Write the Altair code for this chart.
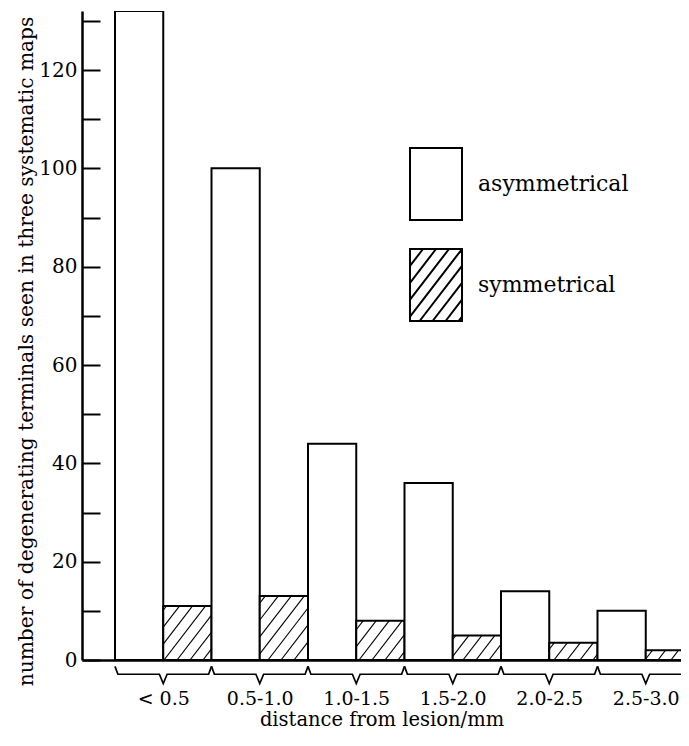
import json
import altair as alt
import numpy as np
import pandas as pd

# ---------------- data ----------------
categories = ["< 0.5", "0.5-1.0", "1.0-1.5", "1.5-2.0", "2.0-2.5", "2.5-3.0"]
asymmetrical = [132, 100, 44, 36, 14, 10]
symmetrical = [11, 13, 8, 5, 3.5, 2]
series_names = ["asymmetrical", "symmetrical"]
y_tick_values = [0, 10, 20, 30, 40, 50, 60, 70, 80, 90, 100, 110, 120, 130]
x_label_values = [1, 3, 5, 7, 9, 11]
x_title = "distance from lesion/mm"
y_title = "number of degenerating terminals seen in three systematic maps"

# ---------------- layout constants ----------------
PLOT_W = 599
PLOT_H = 649
BAR_PX = 48.25
X_MIN = -0.684
X_MAX = X_MIN + PLOT_W / BAR_PX
Y_MAX = 132
PX_PER_X = PLOT_W / (X_MAX - X_MIN)
PX_PER_Y = PLOT_H / Y_MAX
FONT = "DejaVu Serif"
SLOPE = 1.3      # hatch slope (pixel dy/dx)
SPACING = 13.0   # hatch horizontal spacing in px

# ---------------- derived tables ----------------
rows = []
for g, cat in enumerate(categories):
    for s, (name, vals) in enumerate(zip(series_names, [asymmetrical, symmetrical])):
        rows.append({"category": cat, "series": name, "x0": 2 * g + s,
                     "x1": 2 * g + s + 1, "xc": 2 * g + s + 0.5, "value": vals[g]})
bars = pd.DataFrame(rows)

# hatch segments inside symmetrical bars (derived from bar values)
hatch = []
for g, v in enumerate(symmetrical):
    xa = (2 * g + 1 - X_MIN) * PX_PER_X
    xb = xa + PX_PER_X
    h = v * PX_PER_Y
    k0 = int(np.floor((xa - h / SLOPE) / SPACING)) - 1
    k1 = int(np.ceil(xb / SPACING)) + 1
    for k in range(k0, k1 + 1):
        c = k * SPACING + 4
        ylo = max(0.0, SLOPE * (xa - c))
        yhi = min(h, SLOPE * (xb - c))
        if yhi - ylo > 0.5:
            hatch.append({"x": X_MIN + (c + ylo / SLOPE) / PX_PER_X, "y": ylo / PX_PER_Y,
                          "x2": X_MIN + (c + yhi / SLOPE) / PX_PER_X, "y2": yhi / PX_PER_Y})
hatch_df = pd.DataFrame(hatch)

# braces under each group
BR_END, BR_MID, BR_TIP = -1.3, -2.9, -4.8
brace = []
for g in range(len(categories)):
    x0, x1 = 2 * g, 2 * g + 2
    xc = (x0 + x1) / 2
    pts = [(x0, BR_END), (x0 + 0.06, BR_MID), (xc - 0.08, BR_MID), (xc, BR_TIP),
           (xc + 0.08, BR_MID), (x1 - 0.06, BR_MID), (x1, BR_END)]
    for i, (bx, by) in enumerate(pts):
        brace.append({"g": g, "i": i, "x": bx, "y": by})
brace_df = pd.DataFrame(brace)

# legend symbol paths (unit square -1..1 scaled by sqrt(size)/2)
W = 0.722
rect_path = f"M{-W},-1L{W},-1L{W},1L{-W},1Z"
step = SPACING / 36.0
segs = []
c = -W - 2 / SLOPE - step
while c < W + step:
    tlo = max(0.0, SLOPE * (-W - c))
    thi = min(2.0, SLOPE * (W - c))
    if thi - tlo > 0.02:
        xa_, ya_ = c + tlo / SLOPE, 1 - tlo
        xb_, yb_ = c + thi / SLOPE, 1 - thi
        segs.append(f"M{xa_:.3f},{ya_:.3f}L{xb_:.3f},{yb_:.3f}")
    c += step
hatch_path = rect_path + "".join(segs)

# ---------------- chart ----------------
x_scale = alt.Scale(domain=[X_MIN, X_MAX], nice=False, zero=False)
y_scale = alt.Scale(domain=[0, Y_MAX], nice=False)

label_expr = json.dumps(categories) + "[round((datum.value - 1) / 2)]"

x_axis = alt.Axis(values=x_label_values, labelExpr=label_expr, ticks=False, grid=False,
                  domain=True, domainColor="black", domainWidth=2.5,
                  labelPadding=29, labelFont=FONT, labelFontSize=19, labelColor="black",
                  labelOverlap=False,
                  title=x_title, titleFont=FONT, titleFontSize=19.5, titleFontWeight="normal",
                  titleColor="black", titlePadding=2)
y_axis = alt.Axis(values=y_tick_values,
                  labelExpr="datum.value % 20 == 0 ? datum.label : ''",
                  ticks=False, grid=True, gridDash=[18, 2000], gridColor="black",
                  gridWidth=2, gridOpacity=1, domain=True, domainColor="black",
                  domainWidth=2.5, labelPadding=5, labelFont=FONT, labelFontSize=20,
                  labelColor="black", labelOverlap=False,
                  title=y_title, titleFont=FONT, titleFontSize=20.2, titleFontWeight="normal",
                  titleColor="black", titleX=-56, titleY=340, titleBaseline="middle")

bar_layer = alt.Chart(bars).mark_rect(fill="white", stroke="black", strokeWidth=2,
                                      clip=True).encode(
    x=alt.X("x0:Q", scale=x_scale, axis=x_axis),
    x2="x1:Q",
    y=alt.Y("value:Q", scale=y_scale, axis=y_axis),
    y2=alt.datum(0),
)

hatch_layer = alt.Chart(hatch_df).mark_rule(color="black", strokeWidth=1.1, clip=True).encode(
    x="x:Q", x2="x2:Q", y="y:Q", y2="y2:Q")

brace_layer = alt.Chart(brace_df).mark_line(color="black", strokeWidth=1.7, clip=False).encode(
    x="x:Q", y="y:Q", detail="g:N", order="i:Q")

legend_layer = alt.Chart(bars).mark_point(opacity=0, size=5184, color="black",
                                          filled=False).encode(
    x="xc:Q",
    y="value:Q",
    shape=alt.Shape("series:N",
                    scale=alt.Scale(domain=series_names, range=[rect_path, hatch_path]),
                    legend=alt.Legend(title=None, orient="none", legendX=317, legendY=136,
                                      symbolSize=5184, symbolStrokeColor="black",
                                      symbolStrokeWidth=2, symbolFillColor="white",
                                      symbolOpacity=1,
                                      labelFont=FONT, labelFontSize=22, labelColor="black",
                                      labelOffset=5, rowPadding=21, padding=0)),
)

chart = alt.layer(bar_layer, hatch_layer, brace_layer, legend_layer).properties(
    width=PLOT_W,
    height=PLOT_H,
    padding={"left": 74, "top": 3, "right": 0, "bottom": 74},
    autosize=alt.AutoSizeParams(type="none"),
    background="white",
).configure_view(strokeWidth=0)

chart.save("out.html", embed_options={"renderer": "svg", "actions": False})
